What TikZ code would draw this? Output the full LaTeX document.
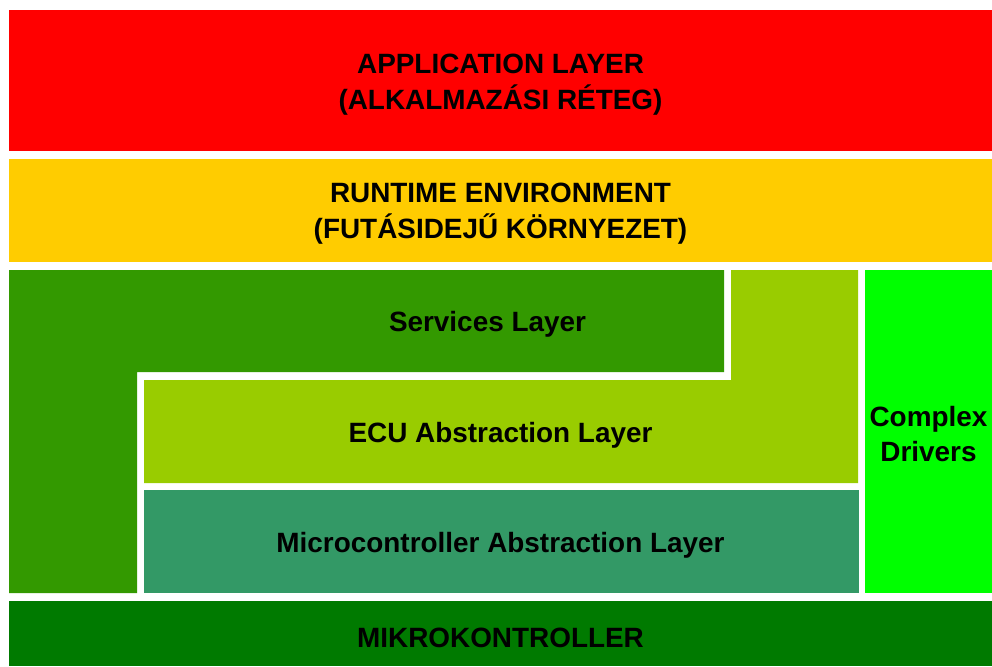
\documentclass[tikz,border=0pt]{standalone}
\usepackage{fontspec}
\setmainfont{Liberation Sans}
\definecolor{appred}{HTML}{FF0000}
\definecolor{rteyellow}{HTML}{FFCC00}
\definecolor{svcgreen}{HTML}{339900}
\definecolor{ecugreen}{HTML}{99CC00}
\definecolor{mcalgreen}{HTML}{339966}
\definecolor{cddgreen}{HTML}{00FF00}
\definecolor{mcugreen}{HTML}{007A00}
\begin{document}
\begin{tikzpicture}[x=1pt,y=-1pt,
  lbl/.style={font=\bfseries\fontsize{27.9}{35.5}\selectfont,align=center,text=black,inner sep=0pt}]
\useasboundingbox (0,0) rectangle (992,666);
% layers
\fill[appred] (9,10) rectangle (992,151);
\fill[rteyellow] (9,159) rectangle (992,262);
\fill[svcgreen] (9,270) -- (724,270) -- (724,372) -- (137,372) -- (137,593) -- (9,593) -- cycle;
\fill[ecugreen] (731,270) -- (858,270) -- (858,483) -- (144,483) -- (144,380) -- (731,380) -- cycle;
\fill[mcalgreen] (144,490) rectangle (859,593);
\fill[cddgreen] (865,270) rectangle (992,593);
\fill[mcugreen] (9,601) rectangle (992,666);
% labels
\node[lbl] (app) at (500.5,84.5) {APPLICATION LAYER\\(ALKALMAZÁSI RÉTEG)};
\node[lbl] (rte) at (500.5,213.5) {RUNTIME ENVIRONMENT\\(FUTÁSIDEJŰ KÖRNYEZET)};
\node[lbl] (svc) at (487.5,324.5) {Services Layer};
\node[lbl] (ecu) at (500.5,435.5) {ECU Abstraction Layer};
\node[lbl] (mcal) at (500.5,545.5) {Microcontroller Abstraction Layer};
\node[lbl] (cdd) at (928.5,434) {Complex\\Drivers};
\node[lbl] (mcu) at (500.5,637.5) {MIKROKONTROLLER};
\end{tikzpicture}
\end{document}
